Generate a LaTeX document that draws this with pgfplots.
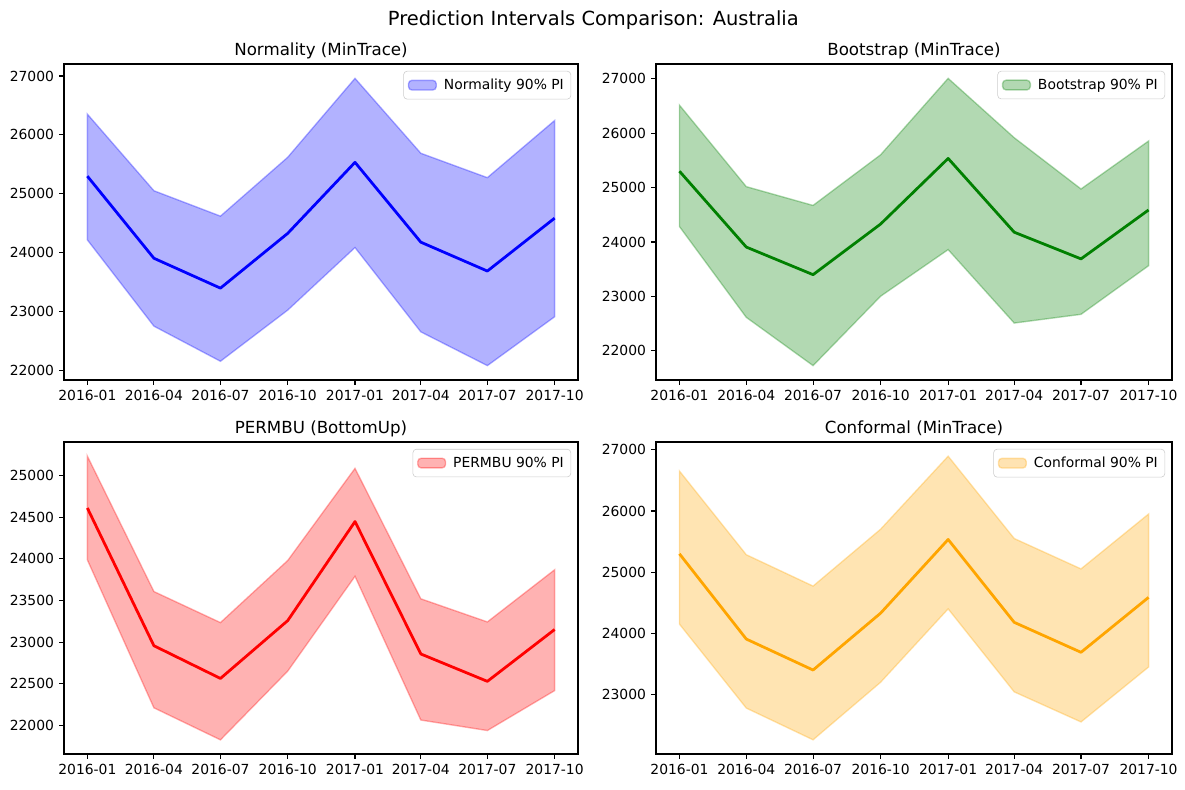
\documentclass[border=0pt]{standalone}
\usepackage{pgfplots}
\pgfplotsset{compat=1.18}
\usepgfplotslibrary{fillbetween}
\usepackage{pgfplotstable}
\usepackage{fontspec}
\setmainfont{DejaVu Sans}

\definecolor{mplgreen}{RGB}{0,128,0}
\definecolor{mplorange}{RGB}{255,165,0}

% x = days since 2016-01-01, lo/hi = 90% interval, mid = point forecast
\pgfplotstableread{
x   lo    mid   hi
0   24219 25300 26353
91  22755 23907 25053
182 22159 23400 24622
274 23027 24330 25621
366 24089 25535 26960
456 22658 24180 25689
547 22085 23690 25275
639 22914 24588 26245
}\normality

\pgfplotstableread{
x   lo    mid   hi
0   24284 25300 26514
91  22616 23907 25017
182 21729 23400 24672
274 23004 24330 25602
366 23860 25535 27006
456 22511 24180 25916
547 22671 23690 24974
639 23564 24588 25855
}\bootstrap

\pgfplotstableread{
x   lo    mid   hi
0   23988 24611 25234
91  22210 22956 23607
182 21825 22563 23234
274 22651 23258 23980
366 23790 24448 25087
456 22063 22857 23520
547 21937 22528 23242
639 22417 23151 23869
}\permbu

\pgfplotstableread{
x   lo    mid   hi
0   24151 25300 26654
91  22778 23907 25286
182 22259 23400 24773
274 23200 24330 25703
366 24400 25535 26897
456 23043 24180 25551
547 22551 23690 25054
639 23449 24588 25951
}\conformal

\pgfplotsset{
  panel/.style={
    scale only axis,
    anchor=south west,
    xmin=-31.95, xmax=670.95,
    xtick={0,91,182,274,366,456,547,639},
    xticklabels={2016-01,2016-04,2016-07,2016-10,2017-01,2017-04,2017-07,2017-10},
    tick align=outside,
    xtick pos=left, ytick pos=left,
    major tick length=3.5pt,
    every tick/.style={black, line width=0.8pt},
    axis line style={line width=0.8pt},
    tick label style={font=\fontsize{10}{12}\selectfont},
    xticklabel style={inner sep=0pt, yshift=-3.5pt},
    yticklabel style={inner sep=0pt, xshift=-3.5pt},
    /pgf/number format/assume math mode=true,
    /pgf/number format/1000 sep={},
    scaled y ticks=false,
    every axis title/.style={font=\fontsize{12}{14}\selectfont, at={(0.5,1)}, anchor=base, yshift=6pt},
    legend style={at={(1,1)}, anchor=north east, xshift=-5pt, yshift=-5pt,
      draw=black!20, rounded corners=2.5pt,
      font=\fontsize{10}{12}\selectfont, inner xsep=3pt, inner ysep=3.5pt,
      /tikz/every odd column/.append style={column sep=3pt}},
    legend image code/.code={\draw[##1] (0pt,-3.5pt) rectangle (20pt,3.5pt);},
  },
}

\begin{document}
\begin{tikzpicture}

% Normality
\begin{axis}[panel, at={(46.08pt,294.48pt)}, width=370.08pt, height=227.52pt,
  ymin=21841, ymax=27204, ytick={22000,23000,24000,25000,26000,27000},
  title={Normality (MinTrace)}]
\addplot[draw=none, name path=up, forget plot] table[x=x, y=hi] {\normality};
\addplot[draw=none, name path=lo, forget plot] table[x=x, y=lo] {\normality};
\addplot[fill=blue, fill opacity=0.3, draw=blue, draw opacity=0.3, line width=1pt, forget plot] fill between[of=up and lo];
\addplot[blue, line width=2pt, line join=round, forget plot] table[x=x, y=mid] {\normality};
\addlegendimage{fill=blue, fill opacity=0.3, draw=blue, draw opacity=0.3, line width=1pt}
\addlegendentry{Normality 90\% PI}
\end{axis}

% Bootstrap
\begin{axis}[panel, at={(472.32pt,294.48pt)}, width=371.52pt, height=227.52pt,
  ymin=21465, ymax=27270, ytick={22000,23000,24000,25000,26000,27000},
  title={Bootstrap (MinTrace)}]
\addplot[draw=none, name path=up, forget plot] table[x=x, y=hi] {\bootstrap};
\addplot[draw=none, name path=lo, forget plot] table[x=x, y=lo] {\bootstrap};
\addplot[fill=mplgreen, fill opacity=0.3, draw=mplgreen, draw opacity=0.3, line width=1pt, forget plot] fill between[of=up and lo];
\addplot[mplgreen, line width=2pt, line join=round, forget plot] table[x=x, y=mid] {\bootstrap};
\addlegendimage{fill=mplgreen, fill opacity=0.3, draw=mplgreen, draw opacity=0.3, line width=1pt}
\addlegendentry{Bootstrap 90\% PI}
\end{axis}

% PERMBU
\begin{axis}[panel, at={(46.08pt,25.2pt)}, width=370.08pt, height=224.64pt,
  ymin=21655, ymax=25404, ytick={22000,22500,23000,23500,24000,24500,25000},
  title={PERMBU (BottomUp)}]
\addplot[draw=none, name path=up, forget plot] table[x=x, y=hi] {\permbu};
\addplot[draw=none, name path=lo, forget plot] table[x=x, y=lo] {\permbu};
\addplot[fill=red, fill opacity=0.3, draw=red, draw opacity=0.3, line width=1pt, forget plot] fill between[of=up and lo];
\addplot[red, line width=2pt, line join=round, forget plot] table[x=x, y=mid] {\permbu};
\addlegendimage{fill=red, fill opacity=0.3, draw=red, draw opacity=0.3, line width=1pt}
\addlegendentry{PERMBU 90\% PI}
\end{axis}

% Conformal
\begin{axis}[panel, at={(472.32pt,25.2pt)}, width=371.52pt, height=224.64pt,
  ymin=22027, ymax=27129, ytick={23000,24000,25000,26000,27000},
  title={Conformal (MinTrace)}]
\addplot[draw=none, name path=up, forget plot] table[x=x, y=hi] {\conformal};
\addplot[draw=none, name path=lo, forget plot] table[x=x, y=lo] {\conformal};
\addplot[fill=mplorange, fill opacity=0.3, draw=mplorange, draw opacity=0.3, line width=1pt, forget plot] fill between[of=up and lo];
\addplot[mplorange, line width=2pt, line join=round, forget plot] table[x=x, y=mid] {\conformal};
\addlegendimage{fill=mplorange, fill opacity=0.3, draw=mplorange, draw opacity=0.3, line width=1pt}
\addlegendentry{Conformal 90\% PI}
\end{axis}

\node[anchor=base, font=\fontsize{14}{17}\selectfont] at (427.2pt,549.6pt)
  {Prediction Intervals Comparison: Australia};
\path (0,0) rectangle (853.2pt,568.08pt);
\end{tikzpicture}
\end{document}
